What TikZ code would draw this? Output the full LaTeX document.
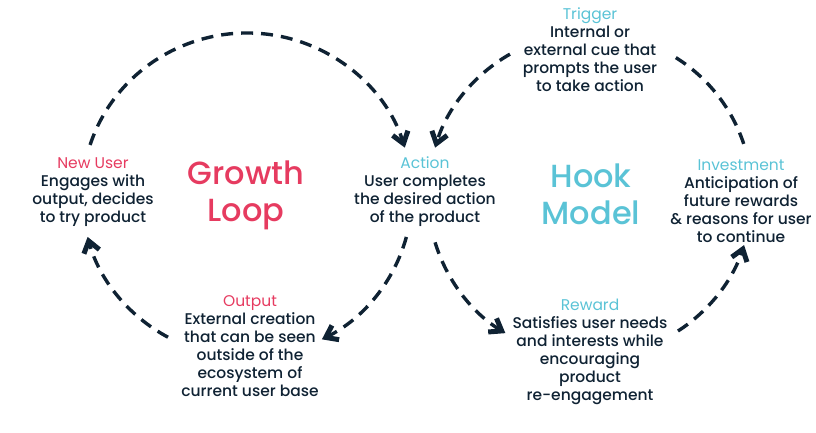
\documentclass[tikz,border=0pt]{standalone}
\usepackage{fontspec}
\setmainfont{Poppins}
\newfontfamily\medfont{Poppins Medium}
\usepackage{xcolor}
\usepackage{tikz}
\usetikzlibrary{positioning, arrows.meta, calc}
\definecolor{growth}{HTML}{E63B60}
\definecolor{hook}{HTML}{5AC3D6}
\definecolor{ink}{HTML}{0F2233}
\newcommand{\growhead}[1]{{\normalfont\textcolor{growth}{#1}}}
\newcommand{\hookhead}[1]{{\normalfont\textcolor{hook}{#1}}}

\begin{document}
\begin{tikzpicture}[
    x=1pt, y=1pt,
    stage/.style={align=center, anchor=base, inner sep=0pt, text=ink,
      font=\medfont\fontsize{15.5}{18}\selectfont},
    title/.style={align=center, anchor=base, inner sep=0pt,
      font=\medfont\fontsize{32}{36.5}\selectfont},
    flow/.style={draw=ink, line width=3.4pt, dash pattern=on 12pt off 8pt},
    tip/.style={-{Straight Barb[length=11pt, width=16pt, line width=5pt]}}
]
  \useasboundingbox (0,0) rectangle (816,-432);

  % centres of the two loops
  \coordinate (cl) at (247,-195);
  \coordinate (cr) at (590,-195);

  % base = last line of each node
  \node[stage] (newuser) at (93,-222) {\growhead{New User}\\Engages with\\output, decides\\to try product};
  \node[stage] (action) at (425,-222) {\hookhead{Action}\\User completes\\the desired action\\of the product};
  \node[stage] (output) at (250,-396) {\growhead{Output}\\External creation\\that can be seen\\outside of the\\ecosystem of\\current user base};
  \node[stage] (trigger) at (590,-91) {\hookhead{Trigger}\\Internal or\\external cue that\\prompts the user\\to take action};
  \node[stage] (invest) at (741,-242) {\hookhead{Investment}\\Anticipation of\\future rewards\\\& reasons for user\\to continue};
  \node[stage] (reward) at (590,-400) {\hookhead{Reward}\\Satisfies user needs\\and interests while\\encouraging\\product\\re-engagement};

  \node[title, text=growth] (growloop) at (246,-221) {Growth\\Loop};
  \node[title, text=hook] (hookmodel) at (591,-224) {Hook\\Model};

  % growth loop
  \coordinate (nu-up) at ($(cl)+(162:165 and 162)$);
  \coordinate (act-l) at ($(cl)+(-15:165 and 162)$);
  \coordinate (out-l) at ($(cl)+(241.4:165 and 162)$);
  \draw[flow, tip] (nu-up) arc[start angle=162, end angle=17, x radius=165pt, y radius=162pt];
  \draw[flow, tip] (act-l) arc[start angle=-15, end angle=-63, x radius=165pt, y radius=162pt];
  \draw[flow, tip] (out-l) arc[start angle=241.4, end angle=195, x radius=165pt, y radius=162pt];

  % hook model
  \coordinate (trig-l) at ($(cr)+(119.6:162 and 162)$);
  \coordinate (trig-r) at ($(cr)+(58:162 and 162)$);
  \coordinate (act-r) at ($(cr)+(197:162 and 162)$);
  \coordinate (rew-r) at ($(cr)+(302.9:162 and 162)$);
  \draw[flow, tip] (trig-l) arc[start angle=119.6, end angle=163, x radius=162pt, y radius=162pt];
  \draw[flow] (trig-r) arc[start angle=58, end angle=18, x radius=162pt, y radius=162pt];
  \draw[flow, tip] (act-r) arc[start angle=197, end angle=238.5, x radius=162pt, y radius=162pt];
  \draw[flow, tip] (rew-r) arc[start angle=302.9, end angle=342, x radius=162pt, y radius=162pt];
\end{tikzpicture}
\end{document}
